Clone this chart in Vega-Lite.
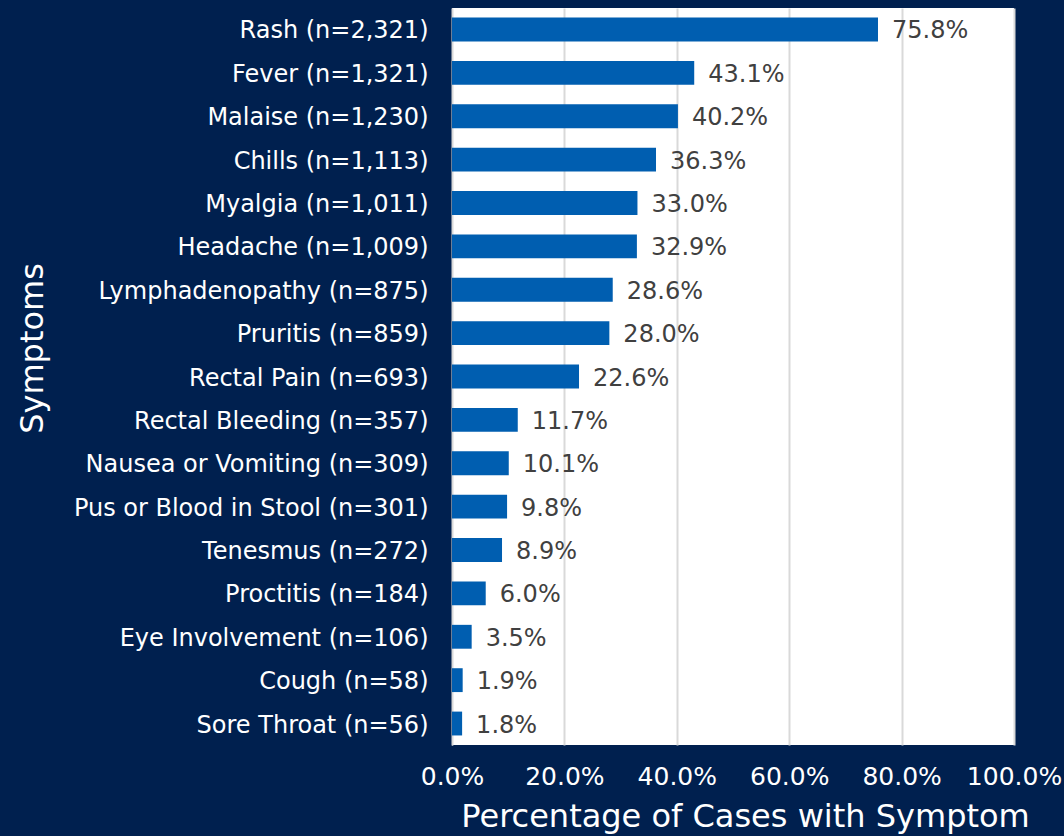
{
  "$schema": "https://vega.github.io/schema/vega-lite/v6.json",
  "autosize": {"type": "none"},
  "width": 562,
  "height": 737,
  "padding": {"left": 452, "top": 8, "right": 50, "bottom": 91},
  "background": "#00204F",
  "view": {"fill": "white", "stroke": null},
  "config": {"font": "DejaVu Sans"},
  "data": {
    "values": [
      {"symptom": "Rash (n=2,321)", "pct": 0.758},
      {"symptom": "Fever (n=1,321)", "pct": 0.431},
      {"symptom": "Malaise (n=1,230)", "pct": 0.402},
      {"symptom": "Chills (n=1,113)", "pct": 0.363},
      {"symptom": "Myalgia (n=1,011)", "pct": 0.330},
      {"symptom": "Headache (n=1,009)", "pct": 0.329},
      {"symptom": "Lymphadenopathy (n=875)", "pct": 0.286},
      {"symptom": "Pruritis (n=859)", "pct": 0.280},
      {"symptom": "Rectal Pain (n=693)", "pct": 0.226},
      {"symptom": "Rectal Bleeding (n=357)", "pct": 0.117},
      {"symptom": "Nausea or Vomiting (n=309)", "pct": 0.101},
      {"symptom": "Pus or Blood in Stool (n=301)", "pct": 0.098},
      {"symptom": "Tenesmus (n=272)", "pct": 0.089},
      {"symptom": "Proctitis (n=184)", "pct": 0.060},
      {"symptom": "Eye Involvement (n=106)", "pct": 0.035},
      {"symptom": "Cough (n=58)", "pct": 0.019},
      {"symptom": "Sore Throat (n=56)", "pct": 0.018}
    ]
  },
  "encoding": {
    "y": {
      "field": "symptom",
      "type": "nominal",
      "sort": null,
      "scale": {"paddingInner": 0.45, "paddingOuter": 0.22},
      "axis": {
        "title": "Symptoms",
        "titleColor": "white",
        "titleFontSize": 32,
        "titleFontWeight": "normal",
        "titleX": -420,
        "titleY": 340,
        "titleAngle": -90,
        "titleAlign": "center",
        "titleBaseline": "middle",
        "labelColor": "white",
        "labelFontSize": 24,
        "labelPadding": 24,
        "labelOffset": 2,
        "ticks": false,
        "domain": true,
        "domainColor": "#D9D9D9",
        "labelLimit": 500
      }
    },
    "x": {
      "field": "pct",
      "type": "quantitative",
      "scale": {"domain": [0, 1], "nice": false},
      "axis": {
        "values": [0, 0.2, 0.4, 0.6, 0.8, 1.0],
        "format": ".1%",
        "title": "Percentage of Cases with Symptom",
        "titleColor": "white",
        "titleFontSize": 32,
        "titleFontWeight": "normal",
        "titlePadding": 12,
        "titleX": 293,
        "labelColor": "white",
        "labelFontSize": 25,
        "labelPadding": 19,
        "ticks": false,
        "domain": false,
        "grid": true,
        "gridColor": "#D9D9D9",
        "gridWidth": 2,
        "labelFlush": false
      }
    }
  },
  "layer": [
    {"mark": {"type": "bar", "color": "#005EB0"}},
    {
      "mark": {"type": "text", "align": "left", "dx": 14, "dy": 2, "fontSize": 24, "color": "#404040", "baseline": "middle"},
      "encoding": {"text": {"field": "pct", "type": "quantitative", "format": ".1%"}}
    }
  ]
}
